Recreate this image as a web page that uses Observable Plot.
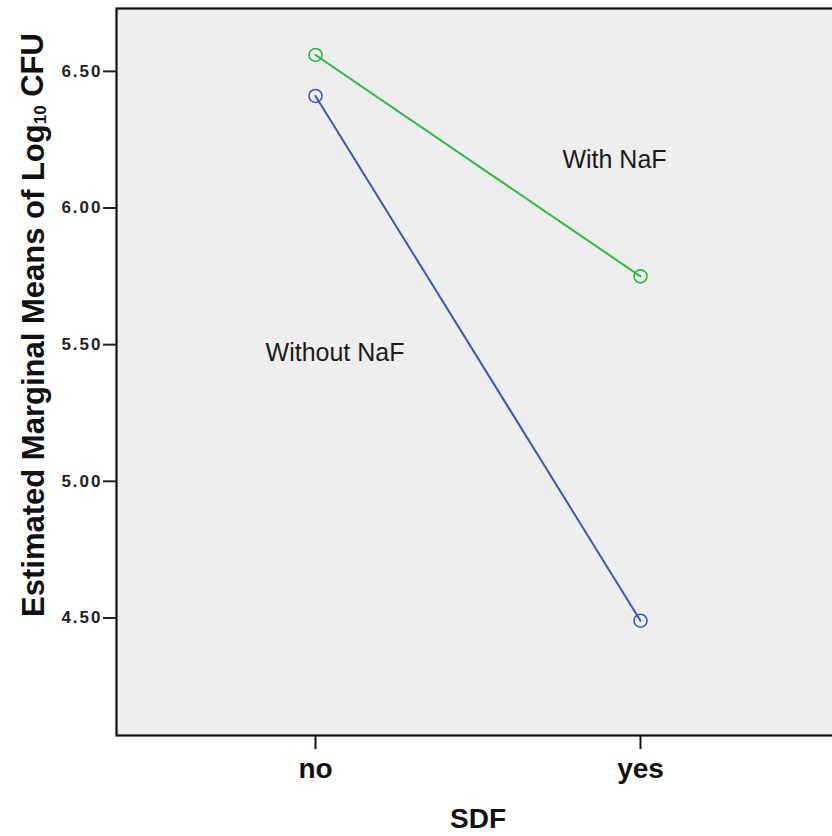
<!DOCTYPE html>
<html>
<head>
<meta charset="utf-8">
<script src="https://cdn.jsdelivr.net/npm/d3@7"></script>
<script src="https://cdn.jsdelivr.net/npm/@observablehq/plot@0.6"></script>
<style>
  html, body { margin: 0; padding: 0; background: #fff; overflow: hidden; }
  #wrap { width: 832px; height: 836px; overflow: hidden; }
  #wrap svg { max-width: none !important; }
</style>
</head>
<body>
<div id="wrap"></div>
<script>
// ---- data ----
const sdfCategories = ["no", "yes"];
const seriesNames = ["With NaF", "Without NaF"];
const withNaF = [6.56, 5.75];
const withoutNaF = [6.41, 4.49];
const yTicks = [4.5, 5.0, 5.5, 6.0, 6.5];
const seriesColors = ["#2EB848", "#3E58AC"];
const xTitle = "SDF";
// annotation label positions (x in category index units, y in data units)
const labelX = [0.92, 0.06];
const labelY = [6.175, 5.47];

const rows = [];
sdfCategories.forEach((c, i) => {
  rows.push({series: seriesNames[0], xi: i, value: withNaF[i]});
  rows.push({series: seriesNames[1], xi: i, value: withoutNaF[i]});
});
const labels = seriesNames.map((s, i) => ({series: s, x: labelX[i], y: labelY[i]}));
const xMid = d3.mean(sdfCategories, (c, i) => i);

const chart = Plot.plot({
  width: 900,
  height: 836,
  marginLeft: 116,
  marginRight: 0,
  marginTop: 8,
  marginBottom: 101,
  style: {fontFamily: "'Liberation Sans', Arial, Helvetica, sans-serif", background: "transparent", maxWidth: "none"},
  x: {type: "linear", domain: [0, 1], range: [315, 640]},
  y: {domain: [4.07, 6.73]},
  color: {domain: seriesNames, range: seriesColors},
  marks: [
    Plot.frame({fill: "#eeeeee", stroke: "none"}),
    Plot.line(rows, {x: "xi", y: "value", z: "series", stroke: "series", strokeWidth: 2}),
    Plot.dot(rows, {x: "xi", y: "value", stroke: "series", fill: "none", r: 6.5, strokeWidth: 1.6}),
    Plot.text(labels, {x: "x", y: "y", text: "series", fontSize: 25, fill: "#1a1a1a", textAnchor: "middle"}),
    Plot.frame({stroke: "#111", strokeWidth: 2.2}),
    Plot.axisY({ticks: yTicks, tickFormat: d => d.toFixed(2), tickSize: 13, tickPadding: 1,
      fontSize: 17, fontWeight: "bold", color: "#222", label: null}),
    Plot.axisX({ticks: [0, 1], tickFormat: i => sdfCategories[i], tickSize: 14, tickPadding: 9,
      fontSize: 28, fontWeight: "bold", color: "#111", strokeWidth: 2, label: null}),
    Plot.text([xTitle], {x: () => xMid, frameAnchor: "bottom", text: d => d, dy: 84,
      fontSize: 28, fontWeight: "bold", fill: "#111", lineAnchor: "middle", textAnchor: "middle"})
  ]
});

chart.style.maxWidth = "none";
document.getElementById("wrap").appendChild(chart);
const svg = d3.select(chart);
svg.selectAll('[aria-label="y-axis tick label"] text').style("letter-spacing", "2px");
svg.selectAll('[aria-label="y-axis tick"] path, [aria-label="x-axis tick"] path').attr("stroke-width", 2);

// y-axis title with subscript
const t = svg.append("text")
  .attr("transform", "translate(44,325) rotate(-90)")
  .attr("text-anchor", "middle")
  .attr("font-family", "'Liberation Sans', Arial, sans-serif")
  .attr("font-weight", "bold")
  .attr("font-size", 31)
  .attr("fill", "#111");
t.append("tspan").text("Estimated Marginal Means of Log");
t.append("tspan").attr("font-size", 17).attr("dy", "0.1em").text("10");
t.append("tspan").attr("dy", "-0.1em").text(" CFU");
</script>
</body>
</html>
